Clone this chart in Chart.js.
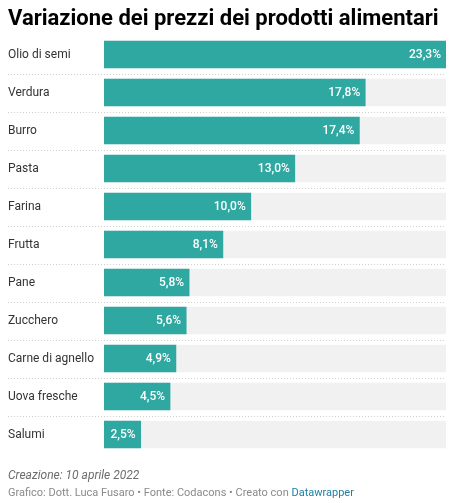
<!DOCTYPE html>
<html>
<head>
<meta charset="utf-8">
<script src="https://cdn.jsdelivr.net/npm/chart.js@4"></script>
<style>
  html, body { margin: 0; padding: 0; background: #fff; }
  body { width: 452px; height: 503px; position: relative; overflow: hidden; font-family: Roboto, sans-serif; }
  #wrap { position: absolute; left: 0; top: 0; width: 452px; height: 503px; }
  canvas { display: block; }
  .t { position: absolute; left: 8px; white-space: nowrap; }
  #title { top: 6.5px; font-size: 22px; line-height: 22px; font-weight: 700; color: #000; }
  #note { top: 468.9px; font-size: 12px; line-height: 12px; font-style: italic; color: #6d6d6d; }
  #src { top: 486.7px; font-size: 11px; line-height: 11px; color: #8a8a8a; }
  #src a { color: #1d81a2; text-decoration: none; }
</style>
</head>
<body>
<div id="wrap"><canvas id="c" width="452" height="503" style="width:452px;height:503px"></canvas></div>
<div class="t" id="title">Variazione dei prezzi dei prodotti alimentari</div>
<div class="t" id="note">Creazione: 10 aprile 2022</div>
<div class="t" id="src">Grafico: Dott. Luca Fusaro • Fonte: Codacons • Creato con <a>Datawrapper</a></div>
<script>
const categories = ["Olio di semi", "Verdura", "Burro", "Pasta", "Farina", "Frutta", "Pane", "Zucchero", "Carne di agnello", "Uova fresche", "Salumi"];
const values = [23.3, 17.8, 17.4, 13.0, 10.0, 8.1, 5.8, 5.6, 4.9, 4.5, 2.5];
const maxValue = 23.3;
const trackValues = categories.map(() => maxValue);

const fmt = v => v.toFixed(1).replace('.', ',') + '%';

const rowPlugin = {
  id: 'rows',
  beforeDatasetsDraw(chart) {
    const ctx = chart.ctx, y = chart.scales.y;
    ctx.save();
    ctx.strokeStyle = '#cfcfcf';
    ctx.lineWidth = 1;
    ctx.setLineDash([1, 2]);
    for (let i = 0; i < categories.length - 1; i++) {
      const yy = Math.round((y.getPixelForValue(i) + y.getPixelForValue(i + 1)) / 2) + 0.5;
      ctx.beginPath();
      ctx.moveTo(8, yy);
      ctx.lineTo(chart.chartArea.right, yy);
      ctx.stroke();
    }
    ctx.restore();
  },
  afterDatasetsDraw(chart) {
    const ctx = chart.ctx, y = chart.scales.y;
    const meta = chart.getDatasetMeta(1);
    ctx.save();
    ctx.textBaseline = 'middle';
    ctx.font = '400 12px Roboto';
    ctx.fillStyle = '#333';
    ctx.textAlign = 'left';
    categories.forEach((c, i) => ctx.fillText(c, 8, y.getPixelForValue(i)));
    ctx.font = '500 12px Roboto';
    ctx.fillStyle = '#fff';
    ctx.textAlign = 'right';
    meta.data.forEach((bar, i) => ctx.fillText(fmt(values[i]), bar.x - 5, bar.y + 0.5));
    ctx.restore();
  }
};

new Chart(document.getElementById('c'), {
  type: 'bar',
  data: {
    labels: categories,
    datasets: [
      { data: trackValues, backgroundColor: '#f1f1f1', barThickness: 27, grouped: false, order: 2 },
      { data: values, backgroundColor: '#2ea8a0', barThickness: 27, grouped: false, order: 1 }
    ]
  },
  options: {
    indexAxis: 'y',
    responsive: false,
    animation: false,
    devicePixelRatio: 1,
    layout: { padding: { left: 104, right: 6, top: 35.5, bottom: 49.5 } },
    plugins: { legend: { display: false }, tooltip: { enabled: false } },
    scales: {
      x: { display: false, min: 0, max: maxValue },
      y: { display: false, offset: true }
    }
  },
  plugins: [rowPlugin]
});
</script>
</body>
</html>
